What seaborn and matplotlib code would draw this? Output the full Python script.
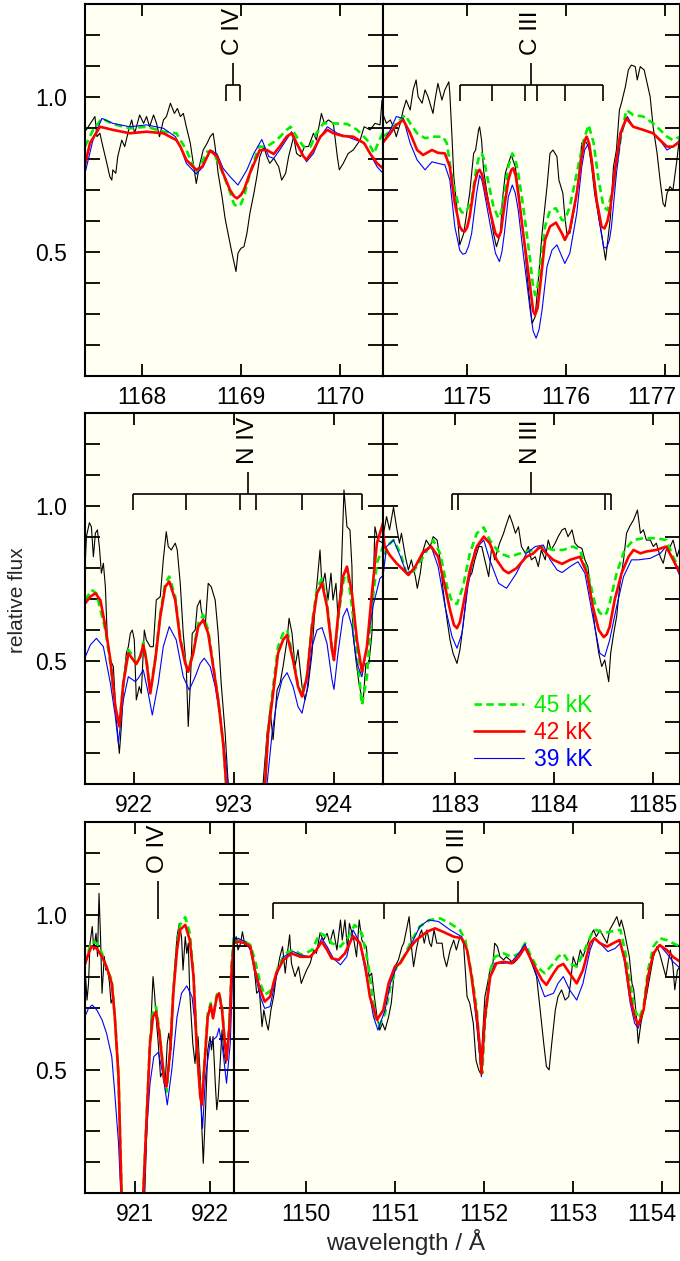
import matplotlib
matplotlib.use("Agg")
import matplotlib.pyplot as plt
from matplotlib.transforms import ScaledTranslation
import seaborn as sns

# ---------------------------------------------------------------------------
# Spectra: (wavelength [A], relative flux) pairs.
# obs = observed spectrum, t45/t42/t39 = model spectra for Teff = 45/42/39 kK
# ---------------------------------------------------------------------------

# C IV 1169 region
civ_obs = [(1167.43,0.888),(1167.53,0.937),(1167.55,0.872),(1167.58,0.883),(1167.61,0.840),(1167.65,0.786),(1167.68,0.743),(1167.70,0.732),(1167.71,0.765),(1167.74,0.754),(1167.76,0.808),(1167.80,0.861),(1167.83,0.840),(1167.87,0.894),(1167.90,0.926),(1167.93,0.883),(1167.98,0.942),(1168.02,0.915),(1168.05,0.937),(1168.08,0.904),(1168.12,0.942),(1168.15,0.915),(1168.18,0.872),(1168.22,0.926),(1168.25,0.937),(1168.29,0.980),(1168.33,0.947),(1168.36,0.963),(1168.39,0.937),(1168.42,0.947),(1168.45,0.904),(1168.49,0.851),(1168.52,0.786),(1168.55,0.721),(1168.58,0.775),(1168.62,0.829),(1168.66,0.851),(1168.69,0.872),(1168.72,0.883),(1168.74,0.840),(1168.77,0.754),(1168.81,0.678),(1168.84,0.609),(1168.87,0.560),(1168.91,0.496),(1168.95,0.437),(1168.97,0.496),(1169.00,0.512),(1169.03,0.517),(1169.06,0.560),(1169.09,0.625),(1169.13,0.689),(1169.16,0.743),(1169.19,0.808),(1169.23,0.840),(1169.26,0.808),(1169.29,0.786),(1169.33,0.802),(1169.38,0.775),(1169.41,0.732),(1169.45,0.754),(1169.48,0.808),(1169.53,0.872),(1169.56,0.818),(1169.60,0.808),(1169.64,0.840),(1169.68,0.840),(1169.73,0.883),(1169.76,0.861),(1169.81,0.947),(1169.84,0.915),(1169.88,0.926),(1169.93,0.915),(1169.97,0.808),(1169.99,0.765),(1170.03,0.786),(1170.08,0.818),(1170.13,0.829),(1170.20,0.861),(1170.24,0.904),(1170.30,0.894),(1170.35,0.915),(1170.40,0.910),(1170.42,0.990)]
civ_t45 = [(1167.43,0.840),(1167.51,0.893),(1167.60,0.931),(1167.71,0.913),(1167.88,0.899),(1168.05,0.904),(1168.22,0.888),(1168.35,0.883),(1168.45,0.829),(1168.55,0.754),(1168.66,0.824),(1168.72,0.824),(1168.79,0.775),(1168.87,0.711),(1168.93,0.655),(1168.96,0.646),(1169.00,0.655),(1169.03,0.678),(1169.09,0.754),(1169.18,0.840),(1169.26,0.840),(1169.36,0.861),(1169.46,0.894),(1169.50,0.904),(1169.56,0.872),(1169.63,0.840),(1169.70,0.840),(1169.76,0.883),(1169.83,0.915),(1169.93,0.915),(1170.07,0.913),(1170.17,0.894),(1170.27,0.861),(1170.34,0.818),(1170.39,0.860),(1170.43,0.883)]
civ_t42 = [(1167.43,0.781),(1167.48,0.851),(1167.58,0.904),(1167.71,0.894),(1167.88,0.883),(1168.05,0.888),(1168.22,0.883),(1168.35,0.861),(1168.39,0.840),(1168.45,0.797),(1168.55,0.765),(1168.61,0.775),(1168.69,0.827),(1168.76,0.808),(1168.82,0.754),(1168.89,0.700),(1168.93,0.680),(1168.96,0.673),(1169.00,0.684),(1169.03,0.700),(1169.09,0.754),(1169.19,0.829),(1169.26,0.829),(1169.33,0.816),(1169.39,0.840),(1169.46,0.872),(1169.51,0.883),(1169.56,0.851),(1169.63,0.808),(1169.66,0.798),(1169.73,0.829),(1169.80,0.872),(1169.87,0.894),(1169.93,0.883),(1170.03,0.874),(1170.13,0.872),(1170.24,0.851),(1170.30,0.818),(1170.37,0.786),(1170.43,0.770)]
civ_t39 = [(1167.43,0.754),(1167.51,0.861),(1167.60,0.931),(1167.71,0.915),(1167.88,0.904),(1168.05,0.910),(1168.22,0.899),(1168.34,0.872),(1168.39,0.840),(1168.45,0.786),(1168.55,0.752),(1168.62,0.775),(1168.69,0.829),(1168.76,0.816),(1168.82,0.770),(1168.89,0.743),(1168.97,0.716),(1169.06,0.765),(1169.13,0.818),(1169.21,0.863),(1169.28,0.808),(1169.33,0.802),(1169.39,0.829),(1169.51,0.888),(1169.60,0.829),(1169.66,0.791),(1169.73,0.818),(1169.80,0.872),(1169.87,0.904),(1169.97,0.883),(1170.07,0.872),(1170.24,0.851),(1170.37,0.775),(1170.43,0.754)]

# C III 1175 region
ciii_obs = [(1174.15,0.950),(1174.19,0.915),(1174.23,0.926),(1174.26,0.904),(1174.29,0.872),(1174.33,0.915),(1174.36,0.958),(1174.39,0.990),(1174.43,0.958),(1174.46,1.023),(1174.49,1.055),(1174.51,1.001),(1174.55,0.980),(1174.58,1.023),(1174.61,1.001),(1174.66,0.947),(1174.68,0.990),(1174.71,1.044),(1174.75,0.990),(1174.78,1.023),(1174.82,1.049),(1174.83,1.012),(1174.85,0.883),(1174.87,0.743),(1174.90,0.646),(1174.93,0.523),(1174.97,0.560),(1175.00,0.625),(1175.03,0.689),(1175.07,0.818),(1175.09,0.829),(1175.12,0.894),(1175.13,0.904),(1175.15,0.861),(1175.17,0.765),(1175.20,0.700),(1175.24,0.625),(1175.27,0.560),(1175.30,0.517),(1175.34,0.560),(1175.36,0.668),(1175.39,0.754),(1175.42,0.786),(1175.45,0.813),(1175.49,0.775),(1175.52,0.700),(1175.55,0.614),(1175.59,0.496),(1175.62,0.388),(1175.66,0.270),(1175.69,0.291),(1175.72,0.399),(1175.76,0.560),(1175.81,0.711),(1175.84,0.818),(1175.87,0.829),(1175.91,0.808),(1175.93,0.732),(1175.97,0.689),(1175.99,0.614),(1176.01,0.560),(1176.04,0.560),(1176.09,0.646),(1176.13,0.743),(1176.16,0.851),(1176.19,0.861),(1176.23,0.840),(1176.26,0.775),(1176.29,0.689),(1176.33,0.614),(1176.36,0.560),(1176.40,0.474),(1176.45,0.614),(1176.48,0.775),(1176.51,0.829),(1176.54,0.958),(1176.56,0.980),(1176.60,1.033),(1176.63,1.087),(1176.66,1.103),(1176.70,1.098),(1176.72,1.055),(1176.75,1.098),(1176.79,1.087),(1176.82,1.044),(1176.85,1.001),(1176.88,0.904),(1176.92,0.818),(1176.95,0.732),(1176.98,0.657),(1177.00,0.646),(1177.02,0.689),(1177.05,0.711),(1177.08,0.700),(1177.12,0.797),(1177.15,0.883)]
ciii_t45 = [(1174.15,0.872),(1174.23,0.888),(1174.29,0.915),(1174.38,0.942),(1174.43,0.915),(1174.50,0.883),(1174.58,0.867),(1174.66,0.872),(1174.76,0.872),(1174.80,0.851),(1174.85,0.743),(1174.92,0.646),(1174.95,0.628),(1174.98,0.625),(1175.01,0.640),(1175.05,0.668),(1175.10,0.775),(1175.125,0.808),(1175.15,0.818),(1175.175,0.800),(1175.20,0.754),(1175.27,0.646),(1175.32,0.609),(1175.345,0.625),(1175.37,0.668),(1175.42,0.775),(1175.46,0.818),(1175.49,0.800),(1175.52,0.754),(1175.57,0.646),(1175.64,0.474),(1175.665,0.400),(1175.69,0.361),(1175.715,0.390),(1175.74,0.453),(1175.79,0.582),(1175.84,0.635),(1175.90,0.641),(1175.96,0.603),(1175.99,0.603),(1176.04,0.646),(1176.11,0.754),(1176.18,0.861),(1176.23,0.910),(1176.28,0.851),(1176.33,0.732),(1176.38,0.646),(1176.42,0.635),(1176.48,0.711),(1176.55,0.861),(1176.61,0.958),(1176.68,0.942),(1176.78,0.937),(1176.88,0.915),(1176.95,0.894),(1177.02,0.872),(1177.08,0.861),(1177.15,0.872)]
ciii_t42 = [(1174.15,0.851),(1174.23,0.883),(1174.29,0.910),(1174.36,0.926),(1174.43,0.883),(1174.50,0.829),(1174.56,0.813),(1174.65,0.829),(1174.71,0.820),(1174.78,0.818),(1174.83,0.775),(1174.88,0.657),(1174.93,0.582),(1174.955,0.569),(1174.98,0.566),(1175.005,0.580),(1175.03,0.614),(1175.08,0.721),(1175.11,0.758),(1175.13,0.765),(1175.155,0.750),(1175.18,0.711),(1175.24,0.625),(1175.29,0.560),(1175.32,0.547),(1175.345,0.565),(1175.37,0.625),(1175.42,0.732),(1175.45,0.765),(1175.47,0.770),(1175.495,0.745),(1175.52,0.689),(1175.57,0.560),(1175.64,0.388),(1175.67,0.310),(1175.69,0.297),(1175.715,0.320),(1175.74,0.388),(1175.79,0.539),(1175.84,0.582),(1175.90,0.595),(1175.96,0.560),(1175.99,0.539),(1176.04,0.571),(1176.11,0.689),(1176.16,0.808),(1176.19,0.860),(1176.21,0.872),(1176.235,0.850),(1176.26,0.797),(1176.31,0.668),(1176.36,0.582),(1176.39,0.576),(1176.42,0.600),(1176.45,0.646),(1176.50,0.775),(1176.55,0.883),(1176.61,0.931),(1176.68,0.904),(1176.78,0.894),(1176.88,0.883),(1176.95,0.861),(1177.02,0.840),(1177.08,0.840),(1177.15,0.856)]
ciii_t39 = [(1174.15,0.851),(1174.23,0.894),(1174.29,0.937),(1174.36,0.931),(1174.43,0.851),(1174.50,0.797),(1174.58,0.765),(1174.65,0.791),(1174.71,0.786),(1174.78,0.781),(1174.83,0.732),(1174.88,0.582),(1174.93,0.506),(1174.96,0.493),(1174.99,0.496),(1175.02,0.520),(1175.05,0.560),(1175.10,0.689),(1175.13,0.748),(1175.155,0.730),(1175.18,0.689),(1175.24,0.582),(1175.29,0.496),(1175.33,0.469),(1175.355,0.500),(1175.38,0.560),(1175.42,0.678),(1175.46,0.716),(1175.49,0.690),(1175.52,0.635),(1175.57,0.496),(1175.64,0.313),(1175.67,0.245),(1175.70,0.222),(1175.73,0.250),(1175.76,0.313),(1175.81,0.453),(1175.86,0.506),(1175.91,0.523),(1175.96,0.485),(1175.99,0.463),(1176.04,0.496),(1176.11,0.625),(1176.16,0.775),(1176.19,0.830),(1176.22,0.845),(1176.25,0.820),(1176.28,0.754),(1176.33,0.614),(1176.38,0.517),(1176.41,0.512),(1176.44,0.540),(1176.46,0.582),(1176.51,0.754),(1176.56,0.883),(1176.62,0.937),(1176.68,0.904),(1176.78,0.894),(1176.88,0.883),(1176.97,0.851),(1177.02,0.829),(1177.08,0.840),(1177.15,0.861)]

# N IV 923 region
niv_obs = [(921.51,0.826),(921.52,0.901),(921.55,0.946),(921.57,0.933),(921.59,0.836),(921.61,0.912),(921.63,0.923),(921.65,0.869),(921.67,0.783),(921.69,0.815),(921.71,0.739),(921.73,0.567),(921.76,0.502),(921.79,0.481),(921.82,0.308),(921.85,0.200),(921.87,0.287),(921.90,0.459),(921.92,0.524),(921.94,0.545),(921.96,0.588),(921.98,0.599),(922.00,0.567),(922.02,0.373),(922.05,0.416),(922.07,0.394),(922.10,0.599),(922.12,0.567),(922.16,0.545),(922.19,0.545),(922.22,0.696),(922.26,0.707),(922.29,0.826),(922.32,0.917),(922.34,0.869),(922.37,0.858),(922.41,0.880),(922.43,0.858),(922.46,0.750),(922.49,0.588),(922.52,0.481),(922.54,0.287),(922.56,0.416),(922.58,0.588),(922.61,0.599),(922.63,0.675),(922.66,0.696),(922.67,0.664),(922.71,0.610),(922.74,0.750),(922.77,0.739),(922.81,0.696),(922.84,0.588),(922.87,0.427),(922.91,0.265),(922.94,0.103),(922.98,0.0),(923.26,0.0),(923.29,0.103),(923.33,0.265),(923.36,0.341),(923.39,0.244),(923.43,0.405),(923.46,0.427),(923.49,0.481),(923.53,0.567),(923.55,0.637),(923.58,0.588),(923.61,0.481),(923.64,0.535),(923.68,0.416),(923.71,0.373),(923.74,0.416),(923.78,0.524),(923.81,0.675),(923.83,0.750),(923.86,0.858),(923.88,0.739),(923.91,0.783),(923.94,0.696),(923.97,0.783),(923.99,0.696),(924.02,0.750),(924.04,0.642),(924.07,0.750),(924.10,1.052),(924.13,0.933),(924.16,0.923),(924.18,0.804),(924.19,0.588),(924.22,0.502),(924.25,0.427),(924.29,0.362),(924.32,0.491),(924.35,0.491),(924.38,0.588),(924.41,0.933),(924.44,0.890),(924.49,0.880)]
niv_t45 = [(921.51,0.696),(921.57,0.729),(921.62,0.718),(921.71,0.599),(921.76,0.491),(921.81,0.346),(921.85,0.292),(921.89,0.427),(921.94,0.535),(921.99,0.513),(922.02,0.491),(922.06,0.515),(922.09,0.559),(922.12,0.508),(922.16,0.400),(922.21,0.508),(922.26,0.653),(922.31,0.750),(922.35,0.772),(922.41,0.707),(922.46,0.572),(922.51,0.497),(922.54,0.470),(922.59,0.529),(922.64,0.621),(922.69,0.648),(922.74,0.599),(922.79,0.486),(922.84,0.373),(922.89,0.233),(922.92,0.103),(922.96,0.0),(923.28,0.0),(923.31,0.103),(923.34,0.276),(923.39,0.416),(923.44,0.545),(923.49,0.588),(923.53,0.599),(923.59,0.513),(923.64,0.421),(923.68,0.389),(923.73,0.453),(923.78,0.621),(923.83,0.734),(923.88,0.766),(923.93,0.686),(923.98,0.540),(924.00,0.502),(924.04,0.631),(924.09,0.750),(924.13,0.799),(924.18,0.675),(924.23,0.524),(924.28,0.357),(924.33,0.448),(924.38,0.675),(924.43,0.815),(924.49,0.869)]
niv_t42 = [(921.51,0.686),(921.56,0.707),(921.61,0.718),(921.66,0.696),(921.71,0.610),(921.76,0.502),(921.81,0.351),(921.85,0.287),(921.89,0.427),(921.94,0.524),(921.99,0.502),(922.02,0.489),(922.06,0.513),(922.09,0.551),(922.12,0.502),(922.16,0.394),(922.21,0.502),(922.26,0.642),(922.31,0.739),(922.35,0.756),(922.41,0.696),(922.46,0.567),(922.51,0.491),(922.54,0.464),(922.59,0.524),(922.64,0.610),(922.69,0.632),(922.74,0.588),(922.79,0.481),(922.84,0.373),(922.89,0.233),(922.92,0.103),(922.96,0.0),(923.28,0.0),(923.31,0.103),(923.34,0.265),(923.39,0.394),(923.44,0.524),(923.49,0.567),(923.53,0.583),(923.59,0.502),(923.64,0.416),(923.68,0.384),(923.73,0.448),(923.78,0.610),(923.83,0.718),(923.88,0.750),(923.93,0.675),(923.98,0.535),(924.00,0.502),(924.04,0.642),(924.09,0.772),(924.13,0.804),(924.18,0.718),(924.23,0.567),(924.28,0.464),(924.33,0.545),(924.38,0.718),(924.43,0.880),(924.49,0.944)]
niv_t39 = [(921.51,0.513),(921.56,0.551),(921.62,0.572),(921.69,0.545),(921.76,0.427),(921.81,0.319),(921.84,0.233),(921.89,0.373),(921.94,0.448),(922.01,0.432),(922.04,0.443),(922.09,0.470),(922.14,0.394),(922.18,0.324),(922.24,0.427),(922.29,0.545),(922.35,0.610),(922.42,0.567),(922.49,0.448),(922.55,0.405),(922.61,0.448),(922.66,0.491),(922.70,0.508),(922.76,0.481),(922.81,0.416),(922.86,0.319),(922.91,0.190),(922.94,0.103),(922.98,0.0),(923.30,0.0),(923.33,0.103),(923.38,0.265),(923.43,0.373),(923.48,0.438),(923.53,0.461),(923.59,0.416),(923.64,0.351),(923.68,0.330),(923.73,0.405),(923.78,0.545),(923.83,0.599),(923.88,0.607),(923.93,0.556),(923.98,0.438),(924.00,0.407),(924.04,0.524),(924.09,0.642),(924.13,0.669),(924.18,0.610),(924.23,0.491),(924.28,0.448),(924.33,0.545),(924.39,0.675),(924.46,0.766),(924.49,0.775)]

# N III 1184 region
niii_obs = [(1182.27,0.933),(1182.28,0.912),(1182.31,0.966),(1182.34,0.923),(1182.38,0.996),(1182.41,0.933),(1182.44,0.880),(1182.46,0.912),(1182.50,0.836),(1182.53,0.793),(1182.56,0.826),(1182.60,0.772),(1182.62,0.734),(1182.65,0.783),(1182.68,0.858),(1182.71,0.890),(1182.75,0.869),(1182.78,0.901),(1182.82,0.890),(1182.85,0.826),(1182.88,0.729),(1182.92,0.632),(1182.95,0.567),(1182.98,0.524),(1183.02,0.491),(1183.05,0.535),(1183.08,0.610),(1183.11,0.696),(1183.13,0.761),(1183.17,0.783),(1183.20,0.826),(1183.24,0.869),(1183.27,0.869),(1183.30,0.826),(1183.34,0.772),(1183.37,0.869),(1183.40,0.826),(1183.45,0.880),(1183.49,0.912),(1183.51,0.933),(1183.55,0.971),(1183.58,0.944),(1183.61,0.912),(1183.64,0.933),(1183.67,0.869),(1183.71,0.847),(1183.74,0.869),(1183.77,0.826),(1183.81,0.836),(1183.84,0.804),(1183.87,0.858),(1183.91,0.826),(1183.94,0.890),(1183.97,0.858),(1184.01,0.880),(1184.04,0.901),(1184.08,0.923),(1184.11,0.928),(1184.14,0.901),(1184.18,0.923),(1184.21,0.880),(1184.24,0.869),(1184.28,0.863),(1184.31,0.826),(1184.34,0.804),(1184.38,0.696),(1184.41,0.610),(1184.45,0.524),(1184.48,0.481),(1184.51,0.502),(1184.55,0.432),(1184.57,0.524),(1184.60,0.588),(1184.63,0.642),(1184.66,0.739),(1184.70,0.826),(1184.73,0.912),(1184.76,0.933),(1184.80,0.955),(1184.84,0.987),(1184.87,0.912),(1184.90,0.923),(1184.93,0.890),(1184.97,0.890),(1185.00,0.869),(1185.03,0.880),(1185.07,0.836),(1185.10,0.815),(1185.13,0.858),(1185.17,0.869),(1185.20,0.890),(1185.24,0.836),(1185.27,0.869)]
niii_t45 = [(1182.27,0.804),(1182.31,0.869),(1182.38,0.890),(1182.45,0.847),(1182.51,0.783),(1182.58,0.788),(1182.68,0.836),(1182.78,0.890),(1182.85,0.847),(1182.92,0.739),(1182.97,0.691),(1183.02,0.683),(1183.08,0.739),(1183.15,0.847),(1183.22,0.912),(1183.29,0.931),(1183.35,0.890),(1183.45,0.847),(1183.55,0.836),(1183.66,0.847),(1183.79,0.858),(1183.89,0.869),(1183.99,0.858),(1184.09,0.858),(1184.19,0.869),(1184.26,0.858),(1184.34,0.783),(1184.41,0.686),(1184.46,0.655),(1184.50,0.645),(1184.53,0.655),(1184.56,0.686),(1184.63,0.783),(1184.71,0.858),(1184.80,0.890),(1184.90,0.896),(1185.03,0.896),(1185.13,0.890),(1185.20,0.836),(1185.27,0.793)]
niii_t42 = [(1182.27,0.933),(1182.29,0.869),(1182.34,0.842),(1182.41,0.815),(1182.48,0.793),(1182.53,0.777),(1182.60,0.804),(1182.68,0.853),(1182.76,0.869),(1182.83,0.836),(1182.90,0.739),(1182.95,0.664),(1182.99,0.615),(1183.02,0.605),(1183.05,0.625),(1183.08,0.675),(1183.15,0.793),(1183.22,0.869),(1183.29,0.901),(1183.35,0.880),(1183.42,0.826),(1183.49,0.793),(1183.54,0.783),(1183.62,0.799),(1183.72,0.836),(1183.79,0.847),(1183.86,0.869),(1183.92,0.847),(1183.99,0.826),(1184.08,0.813),(1184.16,0.826),(1184.26,0.836),(1184.33,0.783),(1184.39,0.675),(1184.45,0.599),(1184.50,0.576),(1184.53,0.585),(1184.56,0.610),(1184.61,0.696),(1184.68,0.783),(1184.75,0.836),(1184.80,0.858),(1184.87,0.847),(1184.93,0.853),(1185.03,0.858),(1185.13,0.869),(1185.20,0.826),(1185.27,0.783)]
niii_t39 = [(1182.27,0.761),(1182.31,0.869),(1182.38,0.890),(1182.45,0.836),(1182.51,0.783),(1182.58,0.793),(1182.68,0.847),(1182.76,0.869),(1182.83,0.804),(1182.90,0.675),(1182.97,0.578),(1183.02,0.540),(1183.07,0.588),(1183.13,0.739),(1183.20,0.858),(1183.29,0.890),(1183.35,0.826),(1183.44,0.750),(1183.52,0.734),(1183.62,0.783),(1183.72,0.847),(1183.81,0.869),(1183.89,0.874),(1183.96,0.826),(1184.03,0.793),(1184.08,0.785),(1184.16,0.804),(1184.24,0.820),(1184.31,0.783),(1184.39,0.642),(1184.46,0.524),(1184.51,0.513),(1184.56,0.567),(1184.63,0.675),(1184.70,0.772),(1184.78,0.826),(1184.85,0.826),(1184.97,0.831),(1185.07,0.847),(1185.13,0.869),(1185.20,0.826),(1185.27,0.772)]

# O IV 921 region
oiv_obs = [(920.33,0.844),(920.36,0.725),(920.38,0.779),(920.40,0.909),(920.43,0.963),(920.45,0.887),(920.48,0.941),(920.50,0.866),(920.52,1.070),(920.54,0.930),(920.56,0.747),(920.59,0.866),(920.61,0.822),(920.63,0.833),(920.66,0.779),(920.68,0.715),(920.71,0.736),(920.75,0.607),(920.78,0.477),(920.80,0.262),(920.82,0.100),(920.86,0.0),(921.09,0.0),(921.13,0.100),(921.18,0.477),(921.21,0.639),(921.24,0.801),(921.26,0.747),(921.28,0.671),(921.31,0.585),(921.34,0.477),(921.38,0.499),(921.40,0.445),(921.43,0.585),(921.45,0.618),(921.48,0.564),(921.50,0.671),(921.53,0.833),(921.56,0.930),(921.59,0.973),(921.62,0.930),(921.64,0.822),(921.67,0.930),(921.69,0.876),(921.71,0.909),(921.73,0.747),(921.77,0.585),(921.80,0.520),(921.82,0.585),(921.84,0.607),(921.87,0.477),(921.89,0.316),(921.91,0.197),(921.94,0.370),(921.97,0.564),(922.00,0.607),(922.02,0.564),(922.04,0.607),(922.07,0.456),(922.09,0.370),(922.11,0.413),(922.13,0.499),(922.16,0.628),(922.18,0.564),(922.21,0.520),(922.24,0.607),(922.29,0.801),(922.31,0.909)]
oiv_t45 = [(920.33,0.844),(920.42,0.914),(920.49,0.909),(920.56,0.876),(920.62,0.828),(920.69,0.790),(920.73,0.677),(920.78,0.483),(920.82,0.100),(920.86,0.0),(921.07,0.0),(921.11,0.100),(921.16,0.380),(921.20,0.596),(921.24,0.688),(921.28,0.704),(921.33,0.618),(921.39,0.461),(921.42,0.429),(921.47,0.564),(921.51,0.758),(921.56,0.903),(921.60,0.968),(921.67,0.993),(921.73,0.941),(921.78,0.812),(921.82,0.596),(921.87,0.418),(921.89,0.391),(921.93,0.537),(921.97,0.682),(922.01,0.715),(922.04,0.671),(922.09,0.742),(922.12,0.752),(922.16,0.698),(922.19,0.612),(922.22,0.537),(922.26,0.650),(922.29,0.855),(922.32,0.936)]
oiv_t42 = [(920.33,0.839),(920.38,0.876),(920.42,0.898),(920.49,0.892),(920.56,0.865),(920.62,0.833),(920.69,0.779),(920.73,0.671),(920.78,0.477),(920.82,0.100),(920.86,0.0),(921.07,0.0),(921.11,0.100),(921.16,0.370),(921.20,0.585),(921.24,0.671),(921.28,0.688),(921.33,0.607),(921.39,0.467),(921.42,0.445),(921.47,0.564),(921.51,0.747),(921.56,0.887),(921.60,0.952),(921.67,0.968),(921.73,0.919),(921.78,0.801),(921.82,0.585),(921.87,0.413),(921.89,0.386),(921.93,0.531),(921.97,0.671),(922.01,0.709),(922.04,0.666),(922.09,0.736),(922.12,0.747),(922.16,0.693),(922.19,0.607),(922.22,0.531),(922.26,0.639),(922.29,0.833),(922.32,0.909)]
oiv_t39 = [(920.33,0.671),(920.38,0.698),(920.43,0.709),(920.49,0.693),(920.56,0.661),(920.62,0.618),(920.69,0.542),(920.73,0.423),(920.78,0.262),(920.81,0.100),(920.85,0.0),(921.08,0.0),(921.12,0.100),(921.16,0.316),(921.20,0.456),(921.25,0.542),(921.31,0.556),(921.37,0.488),(921.43,0.386),(921.49,0.499),(921.56,0.671),(921.62,0.747),(921.69,0.771),(921.76,0.736),(921.82,0.607),(921.87,0.423),(921.90,0.310),(921.94,0.477),(922.00,0.585),(922.04,0.596),(922.09,0.607),(922.12,0.634),(922.17,0.564),(922.22,0.456),(922.27,0.585),(922.30,0.801),(922.32,0.887)]

# O III 1150-1154 region
oiii_obs = [(1149.19,0.909),(1149.22,0.930),(1149.24,0.887),(1149.27,0.909),(1149.29,0.946),(1149.32,0.898),(1149.36,0.909),(1149.38,0.887),(1149.41,0.865),(1149.45,0.747),(1149.48,0.758),(1149.51,0.639),(1149.53,0.693),(1149.56,0.650),(1149.58,0.628),(1149.61,0.693),(1149.64,0.736),(1149.67,0.801),(1149.71,0.865),(1149.74,0.898),(1149.77,0.812),(1149.79,0.865),(1149.82,0.936),(1149.84,0.844),(1149.88,0.801),(1149.92,0.833),(1149.95,0.779),(1149.98,0.801),(1150.01,0.822),(1150.05,0.844),(1150.09,0.887),(1150.12,0.876),(1150.16,0.941),(1150.20,0.919),(1150.24,0.941),(1150.27,0.909),(1150.31,0.952),(1150.35,0.887),(1150.39,0.984),(1150.41,0.919),(1150.44,0.984),(1150.47,0.887),(1150.49,0.973),(1150.52,0.941),(1150.54,0.919),(1150.57,0.865),(1150.60,0.984),(1150.63,0.919),(1150.65,0.909),(1150.68,0.898),(1150.71,0.801),(1150.74,0.812),(1150.77,0.736),(1150.80,0.671),(1150.83,0.628),(1150.86,0.650),(1150.89,0.628),(1150.93,0.671),(1150.96,0.715),(1151.00,0.833),(1151.04,0.855),(1151.08,0.898),(1151.10,0.909),(1151.13,0.952),(1151.16,0.995),(1151.19,0.887),(1151.21,0.833),(1151.24,0.887),(1151.27,0.930),(1151.30,0.952),(1151.33,0.909),(1151.36,0.952),(1151.39,0.909),(1151.41,0.898),(1151.44,0.952),(1151.47,0.909),(1151.50,0.909),(1151.53,0.909),(1151.55,0.865),(1151.58,0.833),(1151.62,0.887),(1151.66,0.919),(1151.69,0.887),(1151.73,0.930),(1151.77,0.909),(1151.81,0.736),(1151.84,0.715),(1151.88,0.650),(1151.91,0.531),(1151.94,0.499),(1151.96,0.488),(1151.99,0.639),(1152.01,0.736),(1152.04,0.779),(1152.06,0.812),(1152.10,0.844),(1152.12,0.909),(1152.15,0.898),(1152.18,0.865),(1152.22,0.855),(1152.25,0.865),(1152.29,0.855),(1152.33,0.844),(1152.37,0.855),(1152.40,0.876),(1152.44,0.898),(1152.48,0.887),(1152.52,0.855),(1152.55,0.833),(1152.59,0.801),(1152.63,0.693),(1152.67,0.585),(1152.70,0.510),(1152.73,0.499),(1152.76,0.585),(1152.80,0.693),(1152.83,0.736),(1152.87,0.758),(1152.91,0.725),(1152.95,0.736),(1152.97,0.779),(1153.00,0.865),(1153.04,0.833),(1153.08,0.887),(1153.11,0.865),(1153.15,0.898),(1153.19,0.930),(1153.23,0.952),(1153.26,0.930),(1153.30,0.952),(1153.34,0.930),(1153.38,0.909),(1153.41,0.952),(1153.45,0.973),(1153.49,0.995),(1153.52,0.963),(1153.54,0.984),(1153.57,0.952),(1153.60,0.909),(1153.63,0.865),(1153.66,0.779),(1153.68,0.758),(1153.71,0.671),(1153.73,0.585),(1153.76,0.650),(1153.79,0.693),(1153.82,0.736),(1153.86,0.801),(1153.90,0.865),(1153.94,0.898),(1153.97,0.876),(1154.01,0.833),(1154.04,0.801),(1154.07,0.855),(1154.09,0.887),(1154.12,0.833),(1154.14,0.758),(1154.17,0.822),(1154.20,0.833)]
oiii_t45 = [(1149.19,0.914),(1149.24,0.919),(1149.32,0.914),(1149.38,0.903),(1149.43,0.855),(1149.49,0.779),(1149.54,0.742),(1149.62,0.758),(1149.69,0.833),(1149.77,0.876),(1149.86,0.887),(1149.96,0.871),(1150.07,0.887),(1150.16,0.941),(1150.24,0.930),(1150.29,0.909),(1150.39,0.898),(1150.48,0.930),(1150.55,0.968),(1150.63,0.941),(1150.70,0.844),(1150.78,0.671),(1150.83,0.644),(1150.89,0.682),(1150.95,0.768),(1151.02,0.833),(1151.10,0.865),(1151.19,0.919),(1151.28,0.963),(1151.39,0.984),(1151.51,0.989),(1151.62,0.973),(1151.73,0.952),(1151.79,0.919),(1151.86,0.812),(1151.92,0.693),(1151.96,0.520),(1151.98,0.488),(1152.01,0.650),(1152.07,0.822),(1152.12,0.865),(1152.22,0.876),(1152.31,0.865),(1152.40,0.876),(1152.46,0.909),(1152.53,0.865),(1152.59,0.833),(1152.68,0.812),(1152.78,0.844),(1152.83,0.865),(1152.89,0.876),(1152.96,0.844),(1153.04,0.833),(1153.13,0.887),(1153.21,0.941),(1153.26,0.952),(1153.34,0.941),(1153.41,0.946),(1153.53,0.952),(1153.58,0.887),(1153.64,0.779),(1153.69,0.693),(1153.74,0.666),(1153.79,0.704),(1153.84,0.822),(1153.90,0.898),(1153.97,0.925),(1154.05,0.919),(1154.12,0.909),(1154.20,0.898)]
oiii_t42 = [(1149.19,0.909),(1149.24,0.914),(1149.32,0.909),(1149.38,0.898),(1149.43,0.822),(1149.49,0.758),(1149.54,0.720),(1149.60,0.736),(1149.67,0.812),(1149.75,0.855),(1149.84,0.876),(1149.94,0.865),(1150.05,0.865),(1150.12,0.887),(1150.18,0.914),(1150.24,0.887),(1150.29,0.860),(1150.37,0.855),(1150.44,0.876),(1150.53,0.932),(1150.61,0.909),(1150.67,0.833),(1150.72,0.736),(1150.80,0.661),(1150.87,0.693),(1150.93,0.779),(1151.00,0.833),(1151.06,0.844),(1151.15,0.887),(1151.24,0.919),(1151.36,0.946),(1151.45,0.957),(1151.54,0.946),(1151.66,0.930),(1151.75,0.925),(1151.81,0.887),(1151.86,0.801),(1151.92,0.671),(1151.96,0.553),(1151.97,0.488),(1152.01,0.671),(1152.07,0.801),(1152.14,0.844),(1152.22,0.849),(1152.31,0.844),(1152.39,0.865),(1152.46,0.896),(1152.53,0.855),(1152.59,0.822),(1152.65,0.790),(1152.70,0.774),(1152.78,0.812),(1152.83,0.833),(1152.89,0.842),(1152.96,0.812),(1153.04,0.779),(1153.11,0.822),(1153.19,0.909),(1153.24,0.925),(1153.30,0.909),(1153.38,0.898),(1153.45,0.909),(1153.52,0.919),(1153.58,0.855),(1153.64,0.736),(1153.69,0.671),(1153.73,0.644),(1153.79,0.693),(1153.84,0.801),(1153.90,0.876),(1153.97,0.903),(1154.05,0.887),(1154.12,0.865),(1154.20,0.849)]
oiii_t39 = [(1149.19,0.914),(1149.24,0.925),(1149.32,0.914),(1149.38,0.887),(1149.43,0.812),(1149.49,0.736),(1149.54,0.698),(1149.60,0.704),(1149.67,0.801),(1149.75,0.865),(1149.86,0.882),(1149.94,0.871),(1150.05,0.865),(1150.12,0.887),(1150.18,0.925),(1150.24,0.898),(1150.31,0.860),(1150.39,0.839),(1150.46,0.865),(1150.53,0.952),(1150.61,0.909),(1150.68,0.801),(1150.76,0.671),(1150.81,0.628),(1150.89,0.693),(1150.95,0.779),(1151.02,0.833),(1151.10,0.865),(1151.19,0.909),(1151.28,0.963),(1151.38,0.984),(1151.49,0.979),(1151.62,0.952),(1151.75,0.930),(1151.81,0.887),(1151.86,0.801),(1151.92,0.639),(1151.96,0.520),(1151.97,0.477),(1152.01,0.650),(1152.07,0.801),(1152.12,0.844),(1152.22,0.844),(1152.31,0.849),(1152.39,0.876),(1152.46,0.906),(1152.53,0.855),(1152.61,0.790),(1152.68,0.736),(1152.78,0.747),(1152.83,0.779),(1152.89,0.801),(1152.96,0.758),(1153.04,0.725),(1153.11,0.779),(1153.19,0.887),(1153.24,0.925),(1153.30,0.909),(1153.39,0.882),(1153.47,0.892),(1153.53,0.909),(1153.58,0.844),(1153.64,0.715),(1153.69,0.650),(1153.73,0.634),(1153.79,0.693),(1153.84,0.801),(1153.90,0.876),(1153.97,0.903),(1154.05,0.876),(1154.12,0.849),(1154.20,0.828)]

# Line identifications (rest wavelengths, A)
civ_lines = [1168.85, 1168.99]
ciii_lines = [1174.93, 1175.26, 1175.59, 1175.71, 1175.99, 1176.37]
niv_lines = [921.99, 922.52, 923.06, 923.22, 923.68, 924.28]
niii_lines = [1182.97, 1183.03, 1184.51, 1184.57]
oiv_lines = [921.30]
oiii_lines = [1149.63, 1150.88, 1153.78]

model_labels = ["45 kK", "42 kK", "39 kK"]
y_ticks = [0.2, 0.3, 0.4, 0.5, 0.6, 0.7, 0.8, 0.9, 1.0, 1.1, 1.2]
y_ticklabels = ["", "", "", "0.5", "", "", "", "", "1.0", "", ""]

# ---------------------------------------------------------------------------
sns.set_style("ticks")
plt.rcParams["font.family"] = ["Liberation Sans", "DejaVu Sans"]

GREEN, RED, BLUE = "#00ee00", "#ff0000", "#0000ff"
TICK_FS = 16.5
W, H = 680, 1261
fig = plt.figure(figsize=(W / 100, H / 100), dpi=100)
fig.patch.set_facecolor("white")


def rect(x0, x1, y0, y1):
    return [x0 / W, (H - y1) / H, (x1 - x0) / W, (y1 - y0) / H]


def spectrum(ax, pairs, **kw):
    lam = [p[0] for p in pairs]
    flux = [p[1] for p in pairs]
    sns.lineplot(x=lam, y=flux, ax=ax, sort=False, estimator=None, **kw)
    line = ax.lines[-1]
    line.set_solid_joinstyle("round")
    return line


def mark_ions(ax, lines, label):
    kw = dict(color="black", lw=1.2, solid_capstyle="butt", zorder=6)
    center = 0.5 * (min(lines) + max(lines))
    if len(lines) > 1:
        ax.plot([min(lines), max(lines)], [1.04, 1.04], **kw)
        for w in lines:
            ax.plot([w, w], [0.988, 1.04], **kw)
        ax.plot([center, center], [1.04, 1.11], **kw)
    else:
        ax.plot([center, center], [0.988, 1.11], **kw)
    ax.text(center, 1.135, label, rotation=90, ha="center", va="bottom",
            fontsize=17.5, color="black", zorder=6)


def panel(r, xlim, xticks, obs, t45, t42, t39, lines, label, ylabels,
          last_shift=0.0):
    ax = fig.add_axes(r)
    ax.set_facecolor("#fffff2")
    spectrum(ax, obs, color="black", lw=0.8)
    h45 = spectrum(ax, t45, color=GREEN, lw=1.9, linestyle=(0, (2.8, 1.7)))
    h39 = spectrum(ax, t39, color=BLUE, lw=0.8)
    h42 = spectrum(ax, t42, color=RED, lw=1.9)
    mark_ions(ax, lines, label)
    ax.set_xlim(*xlim)
    ax.set_ylim(0.1, 1.3)
    ax.set_xticks(xticks)
    ax.set_xticklabels([str(t) for t in xticks])
    ax.set_yticks(y_ticks)
    ax.set_yticklabels(y_ticklabels if ylabels else [""] * len(y_ticks))
    ax.set_xlabel("")
    ax.set_ylabel("")
    ax.tick_params(direction="in", top=True, right=True, labelsize=TICK_FS,
                   width=1.3, color="black", labelcolor="black")
    ax.tick_params(axis="x", length=8.6, pad=7)
    ax.tick_params(axis="y", length=10.8, pad=13)
    for s in ax.spines.values():
        s.set_linewidth(1.5)
        s.set_color("black")
    if last_shift:
        # keep the right-most wavelength label inside the figure
        lab = ax.get_xticklabels()[-1]
        lab.set_transform(lab.get_transform() +
                          ScaledTranslation(last_shift / 100, 0,
                                            fig.dpi_scale_trans))
    return ax, (h45, h42, h39)


panel(rect(85, 382.5, 4, 376), (1167.43, 1170.425), [1168, 1169, 1170],
      civ_obs, civ_t45, civ_t42, civ_t39, civ_lines, "C IV", True)
panel(rect(382.5, 679.5, 4, 376), (1174.151, 1177.146), [1175, 1176, 1177],
      ciii_obs, ciii_t45, ciii_t42, ciii_t39, ciii_lines, "C III", False,
      last_shift=-13)
panel(rect(85, 382.5, 413.3, 784.3), (921.506, 924.486), [922, 923, 924],
      niv_obs, niv_t45, niv_t42, niv_t39, niv_lines, "N IV", True)
ax_d, handles = panel(rect(382.5, 679.5, 413.3, 784.3), (1182.269, 1185.264),
                      [1183, 1184, 1185], niii_obs, niii_t45, niii_t42,
                      niii_t39, niii_lines, "N III", False)
panel(rect(85, 233.5, 822.3, 1193.3), (920.333, 922.313), [921, 922],
      oiv_obs, oiv_t45, oiv_t42, oiv_t39, oiv_lines, "O IV", True)
panel(rect(233.5, 679.5, 822.3, 1193.3), (1149.190, 1154.193),
      [1150, 1151, 1152, 1153, 1154], oiii_obs, oiii_t45, oiii_t42,
      oiii_t39, oiii_lines, "O III", False, last_shift=-10)

leg = ax_d.legend(handles, model_labels, loc="upper left",
                  bbox_to_anchor=(0.308, 0.243), frameon=False,
                  fontsize=TICK_FS, handlelength=2.2, handletextpad=0.44,
                  labelspacing=0.17, borderpad=0.0, borderaxespad=0.0,
                  labelcolor="linecolor")

fig.text(406 / W, 1 - 1242 / H, "wavelength / Å", ha="center", va="center",
         fontsize=17.5)
fig.text(18 / W, 1 - 600 / H, "relative flux", rotation=90, ha="center",
         va="center", fontsize=15)

fig.savefig("out.png", dpi=100, facecolor="white")
